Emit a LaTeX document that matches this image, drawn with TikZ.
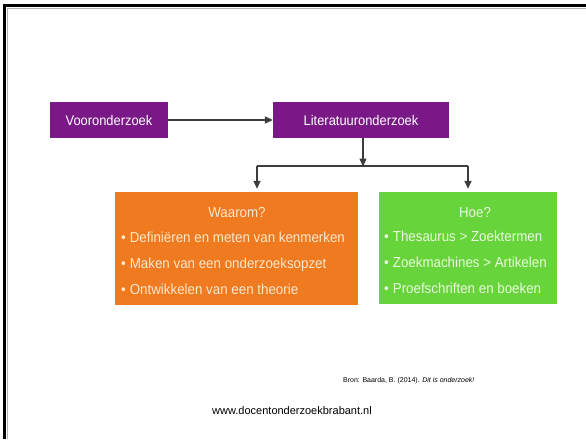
\documentclass[tikz,border=0pt]{standalone}
\usepackage{fontspec}
\setmainfont{Liberation Sans}
\newfontfamily\smal[FakeStretch=0.92]{Liberation Sans}
\usetikzlibrary{arrows.meta}
\definecolor{paars}{RGB}{122,24,136}
\definecolor{oranje}{RGB}{240,122,32}
\definecolor{groen}{RGB}{104,212,60}
\definecolor{pijl}{RGB}{60,60,60}
\definecolor{oranjetekst}{RGB}{253,232,205}
\definecolor{groentekst}{RGB}{232,250,220}
\newcommand{\blt}{•\hspace{4pt}}
\tikzset{
  topbox/.style={draw=none, fill=paars, text=white, font=\smal\fontsize{14}{16}\selectfont, inner sep=0pt},
  bigbox/.style={draw=none, inner sep=0pt},
  boxtxt/.style={font=\smal\fontsize{14.5}{16}\selectfont, inner sep=0pt, text height=10.5pt, text depth=3pt},
  orangetxt/.style={boxtxt, text=oranjetekst, anchor=west},
  greentxt/.style={boxtxt, text=groentekst, anchor=west},
  conn/.style={draw=pijl, line width=1.4pt},
  arr/.style={conn, -{Triangle[width=7pt,length=8pt]}},
}
\begin{document}
\begin{tikzpicture}[x=1pt,y=-1pt]
\useasboundingbox (0,0) rectangle (586,439);
\fill[white] (0,0) rectangle (586,439);
% slide border
\draw[gray!60, line width=1pt] (7.5,439) -- (7.5,8.5) -- (586,8.5);
\draw[black, line width=3pt] (4.5,439) -- (4.5,5.5) -- (586,5.5);

\node[topbox, minimum width=118pt, minimum height=36pt] (voor) at (109,120) {Vooronderzoek};
\node[topbox, minimum width=176pt, minimum height=36pt] (lit) at (361,120) {Literatuuronderzoek};

\node[bigbox, fill=oranje, minimum width=243pt, minimum height=113pt] (waarom) at (236.5,248.5) {};
\node[bigbox, fill=groen, minimum width=178pt, minimum height=112pt] (hoe) at (468,248) {};

\node[boxtxt, text=oranjetekst] (t1) at (237,214) {Waarom?};
\node[orangetxt] (o1) at (121,239) {\blt Definiëren en meten van kenmerken};
\node[orangetxt] (o2) at (121,265) {\blt Maken van een onderzoeksopzet};
\node[orangetxt] (o3) at (121,291) {\blt Ontwikkelen van een theorie};

\node[boxtxt, text=groentekst] (t2) at (475,214) {Hoe?};
\node[greentxt] (g1) at (384,238) {\blt Thesaurus > Zoektermen};
\node[greentxt] (g2) at (384,264) {\blt Zoekmachines > Artikelen};
\node[greentxt] (g3) at (384,290) {\blt Proefschriften en boeken};

\coordinate (split) at (363,166);
\coordinate (linksboven) at (257,166);
\coordinate (rechtsboven) at (468,166);

\draw[arr] (voor.east) -- (lit.west);
\draw[arr, shorten >=-0.5pt] (lit.south -| split) -- (split);
\draw[conn] (linksboven) -- (rechtsboven);
\draw[arr, shorten >=3pt] (linksboven) -- (linksboven |- waarom.north);
\draw[arr, shorten >=3pt] (rechtsboven) -- (rechtsboven |- hoe.north);

\node[anchor=west, inner sep=0pt, font=\fontsize{7}{8}\selectfont] (bron) at (343,381) {Bron: Baarda, B. (2014). \textit{Dit is onderzoek!}};
\node[anchor=west, inner sep=0pt, font=\fontsize{11}{13}\selectfont] (www) at (212,411) {www.docentonderzoekbrabant.nl};
\end{tikzpicture}
\end{document}
